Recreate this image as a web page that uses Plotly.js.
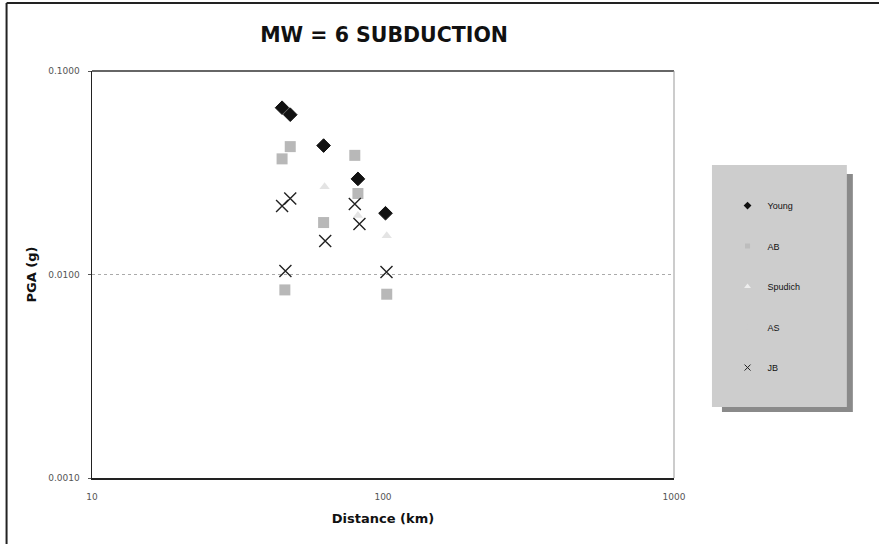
<!DOCTYPE html>
<html>
<head>
<meta charset="utf-8">
<script src="https://cdn.plot.ly/plotly-3.0.1.min.js"></script>
<style>html,body{margin:0;padding:0;background:#fff;}#chart{width:879px;height:544px;}</style>
</head>
<body>
<div id="chart"></div>
<script>
// Data (Distance km, PGA g)
const youngX = [45, 48, 62.5, 82, 102];
const youngY = [0.066, 0.061, 0.043, 0.0295, 0.020];

const abX = [48, 45, 80, 82, 62.5, 46, 103];
const abY = [0.0425, 0.0370, 0.0385, 0.0250, 0.0180, 0.0084, 0.0080];

const spudichX = [63, 82, 103];
const spudichY = [0.027, 0.0195, 0.0155];

// AS: no visible points in the reference
const asX = [null];
const asY = [null];

const jbX = [48, 45, 80, 83, 63.3, 46.2, 102.8];
const jbY = [0.0236, 0.0217, 0.0222, 0.0177, 0.0146, 0.0104, 0.0103];

const seriesNames = ["Young", "AB", "Spudich", "AS", "JB"];
const yTickVals = [0.001, 0.01, 0.1];
const yTickText = ["0.0010", "0.0100", "0.1000"];
const xTickVals = [10, 100, 1000];
const xTickText = ["10", "100", "1000"];

const styles = [
  {symbol: "diamond", size: 10.5, color: "#111", line: {color: "#111", width: 1}},
  {symbol: "square", size: 11, color: "#b8b8b8", line: {width: 0}},
  {symbol: "triangle-up", size: 9, color: "#e4e4e4", line: {width: 0}},
  {symbol: "circle", size: 8, color: "#f4f4f4", line: {width: 0}},
  {symbol: "x-thin-open", size: 12, color: "#222", line: {color: "#222", width: 1.4}}
];
const legendStyles = [
  {symbol: "diamond", size: 6, color: "#111", line: {width: 0}},
  {symbol: "square", size: 5, color: "#bdbdbd", line: {width: 0}},
  {symbol: "triangle-up", size: 6, color: "#eeeeee", line: {width: 0}},
  {symbol: "circle", size: 5, color: "#cdcdcd", line: {width: 0}},
  {symbol: "x-thin-open", size: 6, color: "#222", line: {color: "#222", width: 1}}
];
const xs = [youngX, abX, spudichX, asX, jbX];
const ys = [youngY, abY, spudichY, asY, jbY];

const traces = [];
for (let i = 0; i < 5; i++) {
  traces.push({x: xs[i], y: ys[i], name: seriesNames[i], mode: "markers", type: "scatter",
               showlegend: false, marker: styles[i]});
}
for (let i = 0; i < 5; i++) {
  traces.push({x: [null], y: [null], name: seriesNames[i], mode: "markers", type: "scatter",
               legendgroup: "g" + i, showlegend: true, marker: legendStyles[i]});
}

const tickFont = {family: "'DejaVu Sans', sans-serif", size: 9, color: "#555"};
const axTitleFont = {family: "'DejaVu Sans', sans-serif", size: 13, color: "#111", weight: "bold"};

const layout = {
  width: 879, height: 544,
  paper_bgcolor: "#fff", plot_bgcolor: "#fff",
  margin: {l: 91.5, r: 205, t: 71, b: 66},
  title: {text: "MW = 6 SUBDUCTION", x: 0.437, xanchor: "center", y: 0.936, yanchor: "middle",
          font: {family: "'DejaVu Sans', sans-serif", size: 20.5, color: "#111", weight: "bold"}},
  showlegend: true,
  legend: {x: 1.092, xanchor: "left", y: 0.705, yanchor: "top", bgcolor: "rgba(0,0,0,0)",
           borderwidth: 0, tracegroupgap: 21.5, itemwidth: 30,
           font: {family: "'Liberation Sans', Arial, sans-serif", size: 9, color: "#111"}},
  xaxis: {type: "log", range: [1, 3], tickvals: xTickVals, ticktext: xTickText,
          showgrid: false, zeroline: false, showline: true, linecolor: "#222", linewidth: 1.5,
          ticks: "", ticklabelstandoff: 10, tickfont: tickFont,
          title: {text: "Distance (km)", standoff: 12, font: axTitleFont}},
  yaxis: {type: "log", range: [-3, -1], tickvals: yTickVals, ticktext: yTickText,
          showgrid: true, gridcolor: "#aaa", griddash: "dot", gridwidth: 1,
          zeroline: false, showline: true, linecolor: "#222", linewidth: 1.5,
          ticks: "outside", ticklen: 3, tickcolor: "#555", ticklabelstandoff: 6,
          tickfont: tickFont,
          title: {text: "PGA (g)", standoff: 8, font: axTitleFont}},
  shapes: [
    {type: "line", xref: "paper", yref: "paper", x0: 0, x1: 1, y0: 1, y1: 1, line: {color: "#333", width: 1.5}},
    {type: "line", xref: "paper", yref: "paper", x0: 1, x1: 1, y0: 0, y1: 1, line: {color: "#999", width: 1}},
    {type: "line", xref: "paper", yref: "paper", x0: -0.1468, x1: 2, y0: 1.167, y1: 1.167, line: {color: "#222", width: 2}},
    {type: "line", xref: "paper", yref: "paper", x0: -0.1468, x1: -0.1468, y0: -1, y1: 1.167, line: {color: "#222", width: 2}},
    {type: "rect", xref: "paper", yref: "paper", x0: 1.0824, x1: 1.3073, y0: 0.1622, y1: 0.7469,
     fillcolor: "#8a8a8a", line: {width: 0}},
    {type: "rect", xref: "paper", yref: "paper", x0: 1.0652, x1: 1.2970, y0: 0.1744, y1: 0.7690,
     fillcolor: "#cdcdcd", line: {width: 0}}
  ]
};

Plotly.newPlot("chart", traces, layout, {displayModeBar: false, staticPlot: true});
</script>
</body>
</html>
